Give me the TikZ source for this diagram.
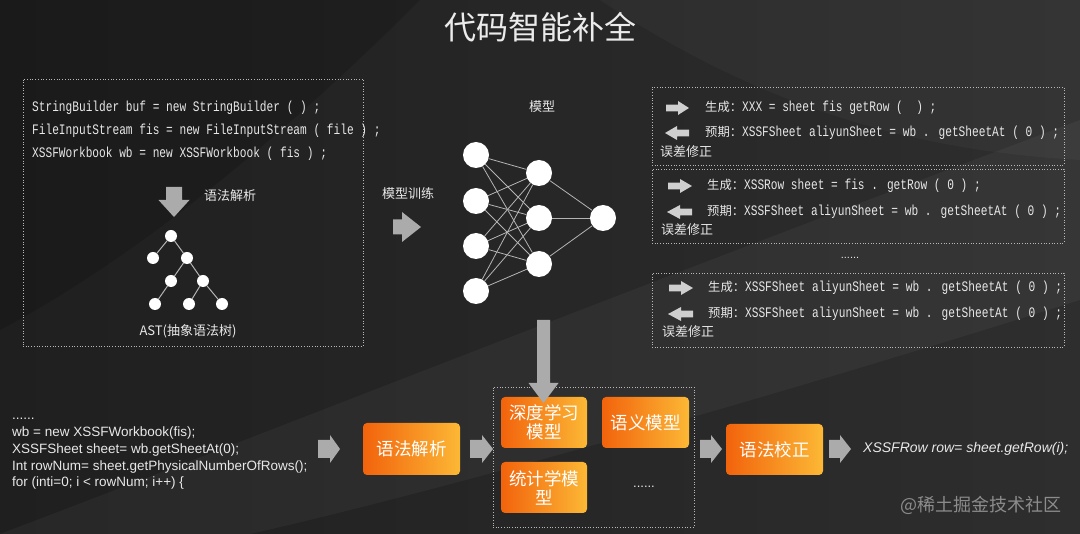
\documentclass[tikz,border=0pt]{standalone}
\usepackage{fontspec}
\setmainfont{Liberation Sans}
\setmonofont{Liberation Mono}
\newfontfamily\cjk{Noto Sans CJK SC}
\newfontfamily\codefont[FakeStretch=0.77]{Liberation Mono}
\definecolor{bgA}{HTML}{1F1F1F}
\definecolor{bgB}{HTML}{2E2E2E}
\definecolor{fg}{HTML}{E8E8E8}
\definecolor{dotc}{HTML}{B8B8B8}
\definecolor{arrc}{HTML}{ABABAB}
\definecolor{arrl}{HTML}{CFCFCF}
\definecolor{or1}{HTML}{F2630C}
\definecolor{or2}{HTML}{FCB835}
\definecolor{edgec}{HTML}{B4B4B4}
\definecolor{wm}{HTML}{8C8C8C}
\newcommand\rarr[7]{\fill[#7] (#1,#2-#5) -- (#3,#2-#5) -- (#3,#2-#6) -- (#4,#2) -- (#3,#2+#6) -- (#3,#2+#5) -- (#1,#2+#5) -- cycle;}
\newcommand\darr[7]{\fill[#7] (#1-#5,#2) -- (#1-#5,#3) -- (#1-#6,#3) -- (#1,#4) -- (#1+#6,#3) -- (#1+#5,#3) -- (#1+#5,#2) -- cycle;}
\begin{document}
\begin{tikzpicture}[x=1pt,y=-1pt,
  txt/.style={inner sep=0pt, text=fg},
  codeline/.style={txt, anchor=west, font=\codefont\fontsize{14.5}{16}\selectfont},
  cjklabel/.style={txt, font=\cjk\fontsize{13}{15}\selectfont},
  sansline/.style={txt, anchor=west, font=\fontsize{13.5}{15}\selectfont},
  dotbox/.style={draw=dotc, dotted, line width=0.7pt, inner sep=0pt},
  obox/.style={rounded corners=4pt, left color=or1, right color=or2, text=white,
     font=\cjk\fontsize{17.5}{20}\selectfont, align=center, inner sep=0pt},
  treenode/.style={circle, fill=white, minimum size=12pt, inner sep=0pt},
  nnnode/.style={circle, fill=white, minimum size=26pt, inner sep=0pt},
  treeedge/.style={draw=edgec, line width=1pt},
  nnedge/.style={draw=edgec, line width=0.8pt},
]
% background
\useasboundingbox (0,0) rectangle (1080,534);
\fill[left color=bgA, right color=bgB] (0,0) rectangle (1080,534);
\fill[black, opacity=0.15] (0,0) -- (420,0) .. controls (300,120) and (150,250) .. (0,330) -- cycle;
\fill[white, opacity=0.04] (0,534) .. controls (300,420) and (600,300) .. (1080,120) -- (1080,300) .. controls (700,420) and (400,500) .. (250,534) -- cycle;
\fill[white, opacity=0.03] (600,0) .. controls (750,100) and (900,150) .. (1080,160) -- (1080,0) -- cycle;

% title
\node[txt, font=\cjk\fontsize{32}{36}\selectfont, text=white!92!black] (title) at (540,27) {代码智能补全};

% left dotted box
\node[dotbox, minimum width=340pt, minimum height=267pt] (lbox) at (193,212.5) {};
\node[codeline] (c1) at (32,108) {StringBuilder buf = new StringBuilder ( ) ;};
\node[codeline] (c2) at (32,131) {FileInputStream fis = new FileInputStream ( file ) ;};
\node[codeline] (c3) at (32,154) {XSSFWorkbook wb = new XSSFWorkbook ( fis ) ;};
\darr{174}{187}{200}{217}{8}{15.5}{arrc}
\node[cjklabel, anchor=west] (parse1) at (204,196) {语法解析};

% AST tree
\node[treenode] (t0) at (171,236) {};
\node[treenode] (t1) at (153,258) {};
\node[treenode] (t2) at (187,258) {};
\node[treenode] (t3) at (171,281) {};
\node[treenode] (t4) at (203,281) {};
\node[treenode] (t5) at (155,304) {};
\node[treenode] (t6) at (189,304) {};
\node[treenode] (t7) at (222,304) {};
\foreach \a/\b in {t0/t1,t0/t2,t2/t3,t2/t4,t3/t5,t4/t6,t4/t7}
  \draw[treeedge] (\a) -- (\b);
\node[cjklabel] (ast) at (188,331) {AST(抽象语法树)};

% model training
\node[cjklabel] (train) at (408,194) {模型训练};
\rarr{393}{227}{402}{421}{7.5}{15}{arrc}
\node[cjklabel] (model) at (542,107) {模型};

% neural network
\node[nnnode] (i1) at (476,155) {};
\node[nnnode] (i2) at (476,201) {};
\node[nnnode] (i3) at (476,246) {};
\node[nnnode] (i4) at (476,291) {};
\node[nnnode] (h1) at (539,173) {};
\node[nnnode] (h2) at (539,218) {};
\node[nnnode] (h3) at (539,264) {};
\node[nnnode] (o1) at (603,218) {};
\foreach \i in {i1,i2,i3,i4}
  \foreach \h in {h1,h2,h3}
    \draw[nnedge] (\i) -- (\h);
\foreach \h in {h1,h2,h3}
  \draw[nnedge] (\h) -- (o1);

% right dotted boxes
\node[dotbox, minimum width=412pt, minimum height=78pt] (rb1) at (858,126) {};
\node[dotbox, minimum width=412pt, minimum height=74pt] (rb2) at (858,206) {};
\node[dotbox, minimum width=412pt, minimum height=74pt] (rb3) at (858,310) {};

\rarr{666}{108}{678}{689}{3.4}{7}{arrl}
\node[codeline] (g1) at (705,108) {{\cjk\fontsize{12.3}{14}\selectfont 生成：}XXX = sheet fis getRow (\ \ ) ;};
\rarr{689}{133}{677}{665}{3.4}{7}{arrl}
\node[codeline] (p1) at (705,133) {{\cjk\fontsize{12.3}{14}\selectfont 预期：}XSSFSheet aliyunSheet = wb . getSheetAt ( 0 ) ;};
\node[cjklabel, anchor=west] (e1) at (660,152) {误差修正};

\rarr{668}{186}{680}{692}{3.4}{7}{arrl}
\node[codeline] (g2) at (707,186) {{\cjk\fontsize{12.3}{14}\selectfont 生成：}XSSRow sheet = fis . getRow ( 0 ) ;};
\rarr{692}{212}{680}{667}{3.4}{7}{arrl}
\node[codeline] (p2) at (707,212) {{\cjk\fontsize{12.3}{14}\selectfont 预期：}XSSFSheet aliyunSheet = wb . getSheetAt ( 0 ) ;};
\node[cjklabel, anchor=west] (e2) at (661,230) {误差修正};

\node[txt, font=\fontsize{11}{12}\selectfont] (rdots) at (850,258) {......};

\rarr{669}{288}{681}{693}{3.4}{7}{arrl}
\node[codeline] (g3) at (708,288) {{\cjk\fontsize{12.3}{14}\selectfont 生成：}XSSFSheet aliyunSheet = wb . getSheetAt ( 0 ) ;};
\rarr{693}{314}{681}{668}{3.4}{7}{arrl}
\node[codeline] (p3) at (708,314) {{\cjk\fontsize{12.3}{14}\selectfont 预期：}XSSFSheet aliyunSheet = wb . getSheetAt ( 0 ) ;};
\node[cjklabel, anchor=west] (e3) at (662,332) {误差修正};

% bottom code
\node[sansline] (bdots) at (12,419) {......};
\node[sansline] (b1) at (12,433) {wb = new XSSFWorkbook(fis);};
\node[sansline] (b2) at (12,450) {XSSFSheet sheet= wb.getSheetAt(0);};
\node[sansline] (b3) at (12,467) {Int rowNum= sheet.getPhysicalNumberOfRows();};
\node[sansline] (b4) at (12,483) {for (inti=0; i < rowNum; i++) \{};

% bottom pipeline
\rarr{318}{449}{330}{340}{9}{14}{arrc}
\node[obox, minimum width=97pt, minimum height=52pt] (parse2) at (411.5,449) {语法解析};
\rarr{470}{449}{482}{493}{9}{14}{arrc}
\node[dotbox, minimum width=201pt, minimum height=140pt] (mbox) at (593.5,457) {};
\node[obox, minimum width=86pt, minimum height=51pt] (deep) at (544,422.5) {深度学习\\[-1pt]模型};
\node[obox, minimum width=87pt, minimum height=51pt] (sem) at (645.5,422.5) {语义模型};
\node[obox, minimum width=86pt, minimum height=51pt] (stat) at (544,487.5) {统计学模\\[-1pt]型};
\node[txt, font=\fontsize{13}{14}\selectfont] (mdots) at (644,487) {......};
\darr{543.5}{320}{383}{403}{6.5}{15}{arrc}
\rarr{700}{449}{711}{722}{9}{14}{arrc}
\node[obox, minimum width=97pt, minimum height=51pt] (corr) at (774.5,449.5) {语法校正};
\rarr{829}{449}{840}{851}{9}{14}{arrc}
\node[txt, anchor=west, font=\itshape\fontsize{14}{16}\selectfont] (res) at (863,449) {XSSFRow row= sheet.getRow(i);};

% watermark
\node[txt, text=wm, font=\cjk\fontsize{18}{20}\selectfont] (wmk) at (981,505) {@稀土掘金技术社区};
\end{tikzpicture}
\end{document}
